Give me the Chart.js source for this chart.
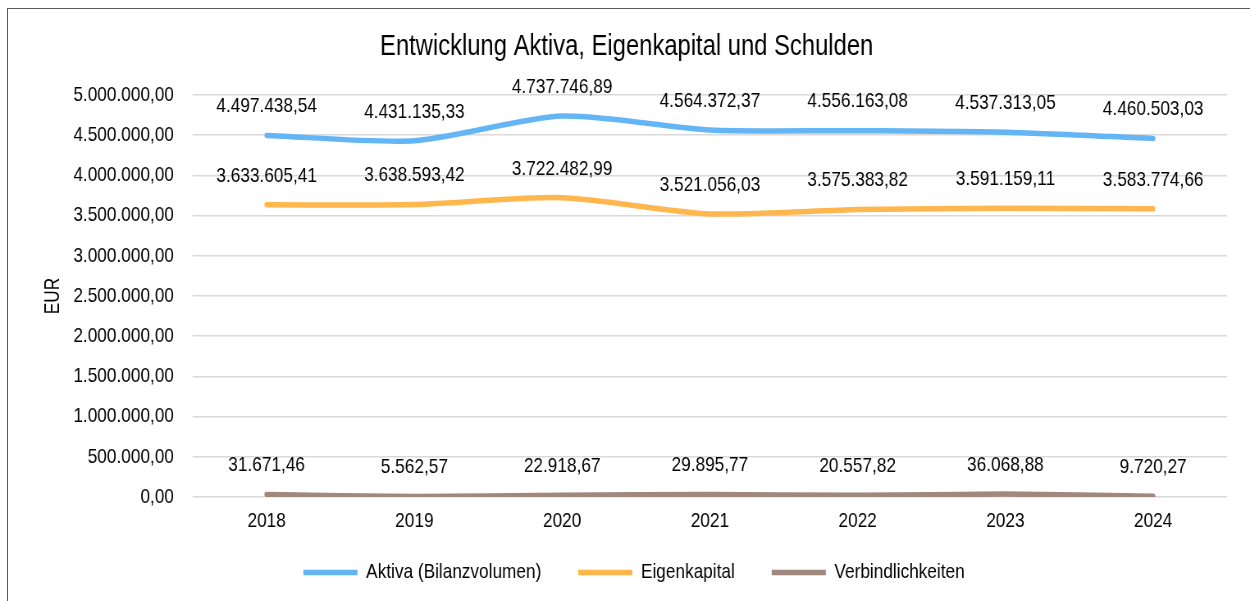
<!DOCTYPE html>
<html lang="de">
<head>
  <meta charset="UTF-8">
  <title>Entwicklung Aktiva, Eigenkapital und Schulden</title>
  <style>
    * { margin: 0; padding: 0; box-sizing: border-box; }
    html, body { width: 1250px; height: 601px; overflow: hidden; background: #fff; }
    #wrap { position: relative; width: 1250px; height: 601px; }
    #frame {
      position: absolute; left: 7px; top: 8px; width: 1300px; height: 700px;
      border: 1px solid #595959; pointer-events: none;
    }
    /* canvas is drawn 1524 wide and shown 1250 wide: gives the narrow (Arial Narrow like) text of the original */
    #chart { position: absolute; left: 0; top: 0; width: 1250px; height: 601px; }
  </style>
  <script src="https://cdn.jsdelivr.net/npm/chart.js"></script>
</head>
<body>
  <div id="wrap">
    <div id="frame"></div>
    <canvas id="chart" width="1524" height="601" style="width:1250px;height:601px"></canvas>
  </div>
  <script>
// Data
const years = ['2018', '2019', '2020', '2021', '2022', '2023', '2024'];
const aktiva = [4497438.54, 4431135.33, 4737746.89, 4564372.37, 4556163.08, 4537313.05, 4460503.03];
const eigenkapital = [3633605.41, 3638593.42, 3722482.99, 3521056.03, 3575383.82, 3591159.11, 3583774.66];
const verbindlichkeiten = [31671.46, 5562.57, 22918.67, 29895.77, 20557.82, 36068.88, 9720.27];
const seriesNames = ['Aktiva (Bilanzvolumen)', 'Eigenkapital', 'Verbindlichkeiten'];
const seriesColors = ['#64B5F6', '#FFB74D', '#A1887F'];

const FONT = "'Liberation Sans', Arial, sans-serif";
const SX = 1250 / 1524; // horizontal squeeze of the canvas

// German number format: 1.234.567,89
function fmtDE(v) {
  const parts = v.toFixed(2).split('.');
  const int = parts[0].replace(/\B(?=(\d{3})+(?!\d))/g, '.');
  return int + ',' + parts[1];
}

// chart title and the rotated axis title
const titles = {
  id: 'titles',
  afterLayout(chart) {
    // x labels hang below the (short) x axis box, don't clip them
    chart.scales.x.bottom += 24;
  },
  afterDraw(chart) {
    const ctx = chart.ctx;
    ctx.save();
    ctx.fillStyle = '#000';
    ctx.font = '29px ' + FONT;
    ctx.textAlign = 'center';
    ctx.textBaseline = 'alphabetic';
    ctx.fillText('Entwicklung Aktiva, Eigenkapital und Schulden', 764, 55);

    // EUR: rotated, squeezed along its own direction like the other text
    const area = chart.chartArea;
    ctx.translate(65, (area.top + area.bottom) / 2);
    ctx.scale(1 / SX, SX);
    ctx.rotate(-Math.PI / 2);
    ctx.font = '21px ' + FONT;
    ctx.textBaseline = 'middle';
    ctx.fillText('EUR', 0, 0);
    ctx.restore();
  }
};

// value labels above each point
const valueLabels = {
  id: 'valueLabels',
  afterDatasetsDraw(chart) {
    const ctx = chart.ctx;
    ctx.save();
    ctx.font = '21px ' + FONT;
    ctx.fillStyle = '#000';
    ctx.textAlign = 'center';
    ctx.textBaseline = 'middle';
    chart.data.datasets.forEach((ds, i) => {
      chart.getDatasetMeta(i).data.forEach((pt, j) => {
        ctx.fillText(fmtDE(ds.data[j]), pt.x, pt.y - 29);
      });
    });
    ctx.restore();
  }
};

function makeSet(i, data) {
  return {
    label: seriesNames[i],
    data: data,
    borderColor: seriesColors[i],
    backgroundColor: seriesColors[i],
    borderWidth: 5.5,
    borderCapStyle: 'round',
    borderJoinStyle: 'round',
    pointRadius: 0,
    pointHoverRadius: 0,
    tension: 0.25,
    fill: false
  };
}

new Chart(document.getElementById('chart'), {
  type: 'line',
  data: {
    labels: years,
    datasets: [makeSet(0, aktiva), makeSet(1, eigenkapital), makeSet(2, verbindlichkeiten)]
  },
  options: {
    responsive: false,
    animation: false,
    layout: { padding: { left: 50, right: 28, top: 95, bottom: 8 } },
    plugins: {
      title: { display: false },
      legend: {
        position: 'bottom',
        labels: {
          usePointStyle: true,
          pointStyle: 'line',
          pointStyleWidth: 66,
          color: '#000',
          padding: 45,
          font: { family: FONT, size: 21 }
        }
      },
      tooltip: { enabled: false }
    },
    scales: {
      x: {
        offset: true,
        grid: { display: false, drawTicks: false },
        border: { display: false },
        ticks: { color: '#000', padding: 12, font: { family: FONT, size: 21 } },
        afterFit(scale) { scale.height = 20; }
      },
      y: {
        min: 0,
        max: 5000000,
        grid: { color: '#d9d9d9', lineWidth: 1.5, drawTicks: false },
        border: { display: false },
        ticks: {
          stepSize: 500000,
          color: '#000',
          padding: 23,
          font: { family: FONT, size: 21 },
          callback: v => fmtDE(v)
        },
        afterFit(scale) { scale.width = 185; }
      }
    }
  },
  plugins: [valueLabels, titles]
});
  </script>
</body>
</html>
